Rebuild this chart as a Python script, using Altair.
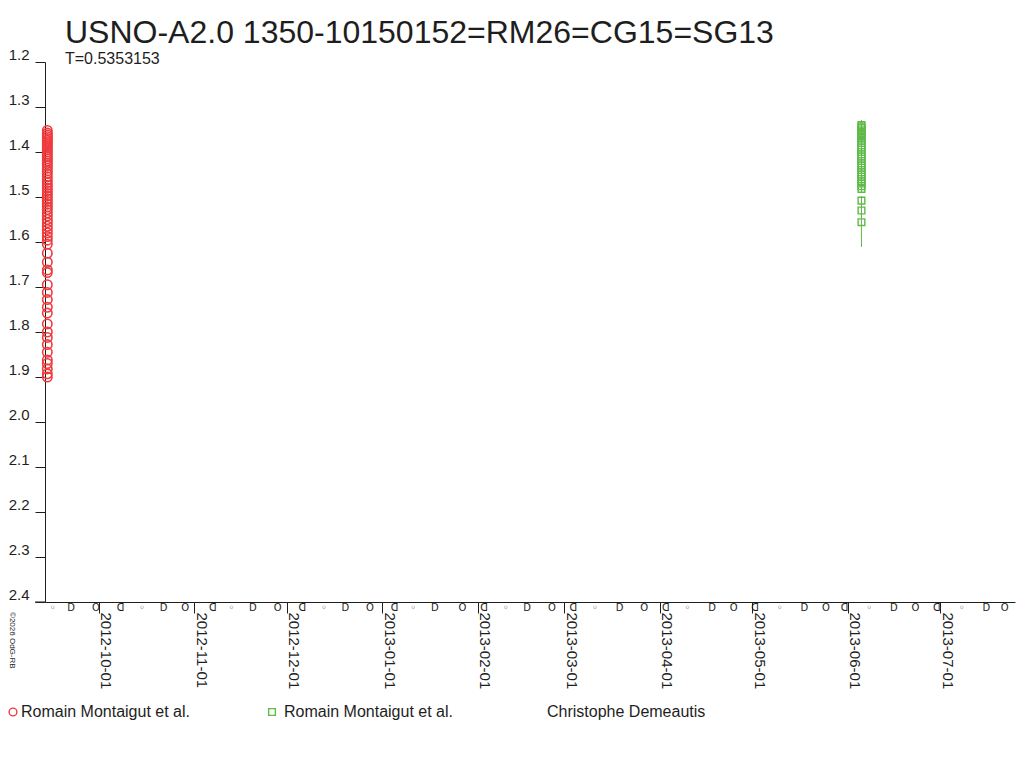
import altair as alt
import pandas as pd

# ---------------- data ----------------
red_date = "2012-09-14T06:00:00Z"
red_mag = [1.352, 1.358, 1.362, 1.366, 1.370, 1.374, 1.378, 1.382, 1.386, 1.390,
           1.395, 1.400, 1.405, 1.410, 1.415, 1.420, 1.425, 1.430, 1.436, 1.442,
           1.448, 1.455, 1.462, 1.468, 1.474, 1.480, 1.486, 1.492, 1.498, 1.504,
           1.510, 1.516, 1.522, 1.528, 1.535, 1.542, 1.550, 1.557, 1.565, 1.572,
           1.580, 1.588, 1.596, 1.605, 1.625, 1.645, 1.662, 1.668, 1.695, 1.712,
           1.728, 1.745, 1.758, 1.782, 1.800, 1.812, 1.828, 1.845, 1.862, 1.870,
           1.882, 1.893, 1.900]

green_date = "2013-06-05T12:00:00Z"
green_mag = [1.340, 1.343, 1.346, 1.350, 1.354, 1.358, 1.362, 1.366, 1.370, 1.375,
             1.380, 1.385, 1.390, 1.395, 1.400, 1.405, 1.410, 1.415, 1.420, 1.425,
             1.430, 1.435, 1.440, 1.445, 1.450, 1.455, 1.460, 1.465, 1.470, 1.476,
             1.482, 1.508, 1.530, 1.556]
green_err = [0.011, 0.008, 0.008, 0.008, 0.008, 0.008, 0.008, 0.008, 0.008, 0.008,
             0.008, 0.008, 0.008, 0.008, 0.008, 0.008, 0.008, 0.008, 0.008, 0.008,
             0.008, 0.008, 0.008, 0.008, 0.008, 0.008, 0.008, 0.008, 0.008, 0.008,
             0.008, 0.010, 0.012, 0.055]

moon_dates = ["2012-09-16", "2012-09-22", "2012-09-30", "2012-10-08",
              "2012-10-15", "2012-10-22", "2012-10-29", "2012-11-07",
              "2012-11-13", "2012-11-20", "2012-11-28", "2012-12-06",
              "2012-12-13", "2012-12-20", "2012-12-28", "2013-01-05",
              "2013-01-11", "2013-01-18", "2013-01-27", "2013-02-03",
              "2013-02-10", "2013-02-17", "2013-02-25", "2013-03-04",
              "2013-03-11", "2013-03-19", "2013-03-27", "2013-04-03",
              "2013-04-10", "2013-04-18", "2013-04-25", "2013-05-02",
              "2013-05-10", "2013-05-18", "2013-05-25", "2013-05-31",
              "2013-06-08", "2013-06-16", "2013-06-23", "2013-06-30",
              "2013-07-08", "2013-07-16", "2013-07-22"]
moon_cycle = ["◦", "D", "O", "ᗡ"]

month_ticks = [(2012, 10), (2012, 11), (2012, 12), (2013, 1), (2013, 2), (2013, 3),
               (2013, 4), (2013, 5), (2013, 6), (2013, 7)]
y_ticks = [1.2, 1.3, 1.4, 1.5, 1.6, 1.7, 1.8, 1.9, 2.0, 2.1, 2.2, 2.3, 2.4]

title_text = "USNO-A2.0 1350-10150152=RM26=CG15=SG13"
subtitle_text = "T=0.5353153"
legend_names = ["Romain Montaigut et al.", "Romain Montaigut et al.", "Christophe Demeautis"]
copyright_text = "©2026 OdG-RB"

RED = "#f03a3c"
GREEN = "#5fba48"
TXT = "#1e1e1e"
FONT = "Liberation Sans"

# ---------------- tables ----------------
red_df = pd.DataFrame({"date": [red_date] * len(red_mag), "mag": red_mag})
green_df = pd.DataFrame({
    "date": [green_date] * len(green_mag),
    "mag": green_mag,
    "lo": [m - e for m, e in zip(green_mag, green_err)],
    "hi": [m + e for m, e in zip(green_mag, green_err)],
})
moon_df = pd.DataFrame({
    "date": [d + "T00:00:00Z" for d in moon_dates],
    "sym": [moon_cycle[i % 4] for i in range(len(moon_dates))],
})

xscale = alt.Scale(type="utc", domain=[alt.DateTime(year=2012, month=9, date=13, hours=12, utc=True),
                                       alt.DateTime(year=2013, month=7, date=25, hours=8, utc=True)])
yscale = alt.Scale(domain=[1.2, 2.4], reverse=True, nice=False, zero=False)

xaxis = alt.Axis(
    values=[alt.DateTime(year=y, month=m, date=1, utc=True) for y, m in month_ticks],
    labelExpr="utcFormat(datum.value, '%Y-%m-%d')", labelAngle=90, labelAlign="left",
    labelBaseline="alphabetic", labelPadding=-1, labelOffset=2, tickSize=11, title=None,
    grid=False, labelFont=FONT, labelFontSize=15, labelColor=TXT, domainColor=TXT,
    tickColor=TXT, labelOverlap=False, labelFlush=False,
)
yaxis = alt.Axis(
    values=y_ticks, format=".1f", labelAlign="right", labelBaseline="alphabetic",
    labelOffset=-3, labelPadding=6, tickSize=10, title=None, grid=False,
    labelFont=FONT, labelFontSize=15, labelColor=TXT, domainColor=TXT, tickColor=TXT,
    labelOverlap=False, labelFlush=False,
)

red_layer = alt.Chart(red_df).mark_point(shape="circle", filled=False, size=88,
                                         strokeWidth=1.6, color=RED, opacity=1).encode(
    x=alt.X("date:T", scale=xscale, axis=xaxis),
    y=alt.Y("mag:Q", scale=yscale, axis=yaxis),
)
green_err_layer = alt.Chart(green_df).mark_rule(stroke=GREEN, strokeWidth=1).encode(
    x="date:T", y="lo:Q", y2="hi:Q")
green_layer = alt.Chart(green_df).mark_point(shape="square", filled=False, size=45,
                                             strokeWidth=1.4, color=GREEN, opacity=1).encode(
    x="date:T", y="mag:Q")
moon_layer = alt.Chart(moon_df).mark_text(font="DejaVu Sans", fontSize=10, color=TXT,
                                          baseline="middle", align="center").encode(
    x="date:T", y=alt.value(546), text="sym:N")

axis_ext = alt.Chart(red_df.head(1)).mark_rule(color=TXT).encode(
    x=alt.value(-10), x2=alt.value(0), y=alt.value(540))

title_layer = alt.Chart(red_df.head(1)).mark_text(
    text=title_text, font=FONT, fontSize=32, color=TXT, align="left", baseline="alphabetic"
).encode(x=alt.value(20), y=alt.value(-19))
subtitle_layer = alt.Chart(red_df.head(1)).mark_text(
    text=subtitle_text, font=FONT, fontSize=16, color=TXT, align="left", baseline="alphabetic"
).encode(x=alt.value(20), y=alt.value(2))

leg_sym1 = alt.Chart(red_df.head(1)).mark_point(shape="circle", filled=False, size=60,
                                                strokeWidth=1.4, color=RED, opacity=1).encode(
    x=alt.value(-32), y=alt.value(650))
leg_sym2 = alt.Chart(red_df.head(1)).mark_point(shape="square", filled=False, size=45,
                                                strokeWidth=1.4, color=GREEN, opacity=1).encode(
    x=alt.value(227), y=alt.value(650))
leg_t1 = alt.Chart(red_df.head(1)).mark_text(
    text=legend_names[0], font=FONT, fontSize=16, color=TXT, align="left", baseline="middle"
).encode(x=alt.value(-24), y=alt.value(650))
leg_t2 = alt.Chart(red_df.head(1)).mark_text(
    text=legend_names[1], font=FONT, fontSize=16, color=TXT, align="left", baseline="middle"
).encode(x=alt.value(239), y=alt.value(650))
leg_t3 = alt.Chart(red_df.head(1)).mark_text(
    text=legend_names[2], font=FONT, fontSize=16, color=TXT, align="left", baseline="middle"
).encode(x=alt.value(502), y=alt.value(650))
copy_layer = alt.Chart(red_df.head(1)).mark_text(
    text=copyright_text, font=FONT, fontSize=8, color=TXT, align="left", baseline="middle",
    angle=90
).encode(x=alt.value(-33), y=alt.value(550))

chart = alt.layer(
    red_layer, green_err_layer, green_layer, moon_layer, axis_ext,
    title_layer, subtitle_layer, leg_sym1, leg_sym2, leg_t1, leg_t2, leg_t3, copy_layer
).properties(
    width=970, height=540,
    background="white",
    autosize=alt.AutoSizeParams(type="none"),
    padding={"left": 37, "top": 54, "right": 1, "bottom": 140},
).configure_view(stroke=None)

chart.save("out.html", embed_options={"renderer": "svg", "actions": False})
